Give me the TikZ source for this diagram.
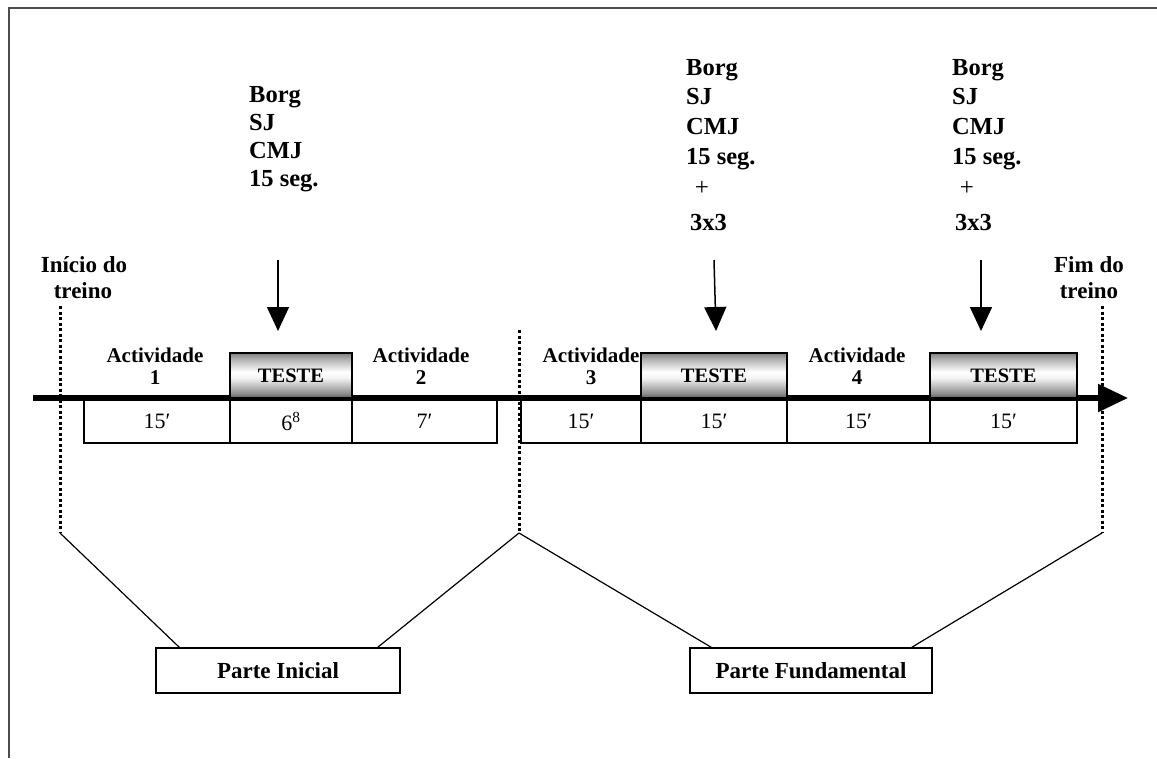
\documentclass[tikz,border=0pt]{standalone}
\usepackage{fontspec}
\setmainfont{Liberation Serif}
\usetikzlibrary{arrows.meta,calc}
\pgfdeclareverticalshading{testeshade}{100bp}{color(0bp)=(black!65); color(25bp)=(black!65); color(30bp)=(black!45); color(47bp)=(black!5); color(54bp)=(white); color(68bp)=(black!30); color(75bp)=(black!50); color(100bp)=(black!50)}
\newcommand\topfont{\bfseries\fontsize{24.5}{29}\selectfont}
\newcommand\midfont{\bfseries\fontsize{21}{24}\selectfont}
\newcommand\termfont{\bfseries\fontsize{23}{26}\selectfont}
\newcommand\numfont{\fontsize{22}{24}\selectfont}
\tikzset{
  toptext/.style={anchor=base west,inner sep=0pt,font=\topfont},
  plustext/.style={anchor=base,inner sep=0pt,font=\fontsize{25}{27}\selectfont},
  lbl/.style={anchor=base,inner sep=0pt,font=\midfont,align=center},
  termlbl/.style={anchor=base,inner sep=0pt,font=\termfont,align=center},
  cell/.style={draw,line width=1.2pt,fill=white,minimum height=43pt,inner sep=0pt,font=\numfont},
  testebox/.style={draw,line width=1.4pt,shading=testeshade,minimum height=45pt,inner sep=0pt,font=\bfseries\fontsize{20.5}{24}\selectfont},
  partebox/.style={draw,line width=1.3pt,fill=white,minimum height=45pt,inner sep=0pt,font=\bfseries\fontsize{23}{26}\selectfont},
  dotline/.style={line width=3pt,dash pattern=on 3pt off 2.5pt},
  thin/.style={line width=1.2pt},
  downarrow/.style={line width=1.5pt,-{Triangle[length=24pt,width=22pt]}}
}
\begin{document}
\begin{tikzpicture}[x=1pt,y=-1pt]
\useasboundingbox (0,0) rectangle (1157,758);
% frame
\draw[line width=1.3pt,black!70] (9,758) -- (9,8) -- (1157,8);

% top text blocks
\foreach \t [count=\i] in {Borg,SJ,CMJ,15 seg.}
  \node[toptext] (bA\i) at (249,{102+28*(\i-1)}) {\t};
\foreach \t [count=\i] in {Borg,SJ,CMJ,15 seg.}
  \node[toptext] (bB\i) at (686,{75+29.7*(\i-1)}) {\t};
\node[plustext] (bBp) at (702,195) {+};
\node[toptext] (bBx) at (690,230) {3x3};
\foreach \t [count=\i] in {Borg,SJ,CMJ,15 seg.}
  \node[toptext] (bC\i) at (952,{75+29.7*(\i-1)}) {\t};
\node[plustext] (bCp) at (967,195) {+};
\node[toptext] (bCx) at (955,230) {3x3};

% start / end labels
\node[termlbl] (ini1) at (84,272) {Início do};
\node[termlbl] (ini2) at (83,298) {treino};
\node[termlbl] (fim1) at (1089,272) {Fim do};
\node[termlbl] (fim2) at (1089,298) {treino};

% main time line
\coordinate (mS) at (33,398);
\coordinate (mE) at (1128,398);
\draw[line width=5.5pt,-{Triangle[length=30pt,width=27pt]}] (mS) -- (mE);

% cells
\node[cell,minimum width=146pt] (c1) at (157,421.5) {15′};
\node[cell,minimum width=122pt] (c2) at (291,421.5) {6\textsuperscript{8}};
\node[cell,minimum width=145pt] (c3) at (424.5,421.5) {7′};
\node[cell,minimum width=120pt] (c4) at (581,421.5) {15′};
\node[cell,minimum width=146pt] (c5) at (714,421.5) {15′};
\node[cell,minimum width=143pt] (c6) at (858.5,421.5) {15′};
\node[cell,minimum width=147pt] (c7) at (1003.5,421.5) {15′};

% TESTE boxes
\node[testebox,minimum width=122pt] (t1) at (291,375.5) {TESTE};
\node[testebox,minimum width=146pt] (t2) at (714,375.5) {TESTE};
\node[testebox,minimum width=147pt] (t3) at (1003.5,375.5) {TESTE};

% activity labels
\node[lbl] (a1) at (155,362) {Actividade};
\node[lbl] (a1n) at (155,384) {1};
\node[lbl] (a2) at (421,362) {Actividade};
\node[lbl] (a2n) at (421,384) {2};
\node[lbl] (a3) at (591,362) {Actividade};
\node[lbl] (a3n) at (591,384) {3};
\node[lbl] (a4) at (857,362) {Actividade};
\node[lbl] (a4n) at (857,384) {4};

% down arrows
\coordinate (p1) at (278,260); \coordinate (q1) at (278,331);
\coordinate (p2) at (714,260); \coordinate (q2) at (716,331);
\coordinate (p3) at (981,260); \coordinate (q3) at (981,331);
\draw[downarrow] (p1) -- (q1);
\draw[downarrow] (p2) -- (q2);
\draw[downarrow] (p3) -- (q3);

% dotted separators
\coordinate (s1) at (60,306);   \coordinate (g1) at (60,533);
\coordinate (s2) at (519,330);  \coordinate (g2) at (519,533);
\coordinate (s3) at (1102,306); \coordinate (g3) at (1102,533);
\draw[dotline] (s1) -- (g1);
\draw[dotline] (s2) -- (g2);
\draw[dotline] (s3) -- (g3);

% parts
\node[partebox,minimum width=244pt] (pI) at (278,670.5) {Parte Inicial};
\node[partebox,minimum width=242pt] (pF) at (811,670.5) {Parte Fundamental};
\draw[thin] (g1) -- ([xshift=24pt]pI.north west);
\draw[thin] (g2) -- ([xshift=-23pt]pI.north east);
\draw[thin] (g2) -- ([xshift=22pt]pF.north west);
\draw[thin] (g3) -- ([xshift=-21pt]pF.north east);
\end{tikzpicture}
\end{document}
